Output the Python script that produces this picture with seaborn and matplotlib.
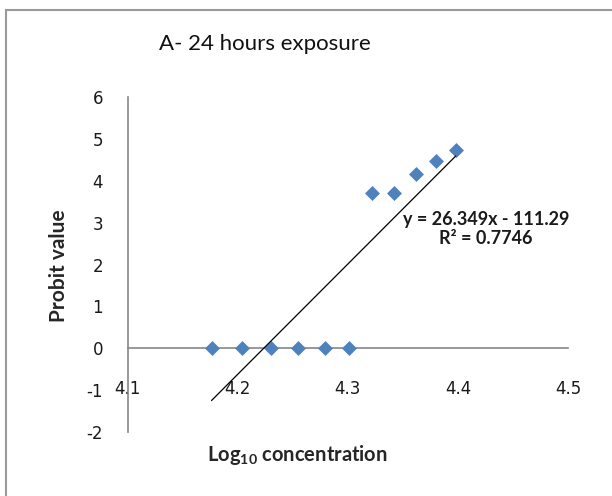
import numpy as np
import pandas as pd
import seaborn as sns
import matplotlib.pyplot as plt
from matplotlib.patches import Rectangle

# values
log_conc = [4.176, 4.204, 4.230, 4.255, 4.279, 4.301, 4.322, 4.342, 4.362, 4.380, 4.398]
probit = [0, 0, 0, 0, 0, 0, 3.72, 3.72, 4.16, 4.48, 4.75]
x_ticks = [4.1, 4.2, 4.3, 4.4, 4.5]
y_ticks = [-2, -1, 0, 1, 2, 3, 4, 5, 6]
equation = "y = 26.349x - 111.29"
r_squared = "R\u00b2 = 0.7746"

df = pd.DataFrame({"log_conc": log_conc, "probit": probit})

sns.set_style("white")
plt.rcParams['font.family'] = ['Lato', 'DejaVu Sans']
plt.rcParams['mathtext.fontset'] = 'custom'
plt.rcParams['mathtext.rm'] = 'Lato:bold'
plt.rcParams['axes.unicode_minus'] = False

axis_grey = '#868686'

fig = plt.figure(figsize=(6.12, 4.96), dpi=100)
ax = fig.add_axes([0.209, 0.129, 0.719, 0.675])

sns.scatterplot(data=df, x="log_conc", y="probit", marker="D", s=58,
                color="#4F81BD", linewidth=0, ax=ax, zorder=3)
sns.regplot(data=df, x="log_conc", y="probit", scatter=False, ci=None,
            truncate=True, line_kws=dict(color="black", lw=0.9, zorder=4), ax=ax)

ax.set_xlim(4.1, 4.5)
ax.set_ylim(-2, 6)
ax.set_xticks(x_ticks)
ax.set_xticklabels([f"{t:.1f}" for t in x_ticks])
ax.set_yticks(y_ticks)
ax.set_xlabel("")
ax.set_ylabel("")

for side in ["top", "right"]:
    ax.spines[side].set_visible(False)
ax.spines["bottom"].set_position(("data", 0))
for side in ["left", "bottom"]:
    ax.spines[side].set_color(axis_grey)
    ax.spines[side].set_linewidth(1.2)

ax.tick_params(axis="x", direction="out", length=6, width=1, color=axis_grey,
               pad=17, labelsize=12, labelcolor="#1a1a1a",
               labelfontfamily="DejaVu Sans")
ax.tick_params(axis="y", direction="out", length=7, width=1, color=axis_grey,
               pad=11, labelsize=12, labelcolor="#1a1a1a",
               labelfontfamily="DejaVu Sans")

ax.text(4.4255, 2.85, equation + "\n" + r_squared, ha="center", va="center",
        fontsize=13, fontweight="bold", linespacing=1.1, color="#1a1a1a")

fig.text(265 / 612, 1 - 44 / 496, "A- 24 hours exposure", ha="center",
         va="center", fontsize=16, color="#111111")
fig.text(297 / 612, 1 - 455 / 496, r"Log$_{\mathrm{10}}$ concentration",
         ha="center", va="center", fontsize=14.5, fontweight="bold")
fig.text(59 / 612, 1 - 266 / 496, "Probit value", ha="center", va="center",
         rotation=90, fontsize=15, fontweight="bold")

fig.patches.append(Rectangle((6 / 612, -0.2), 1.5, 1 - 10 / 496 + 0.2,
                             transform=fig.transFigure, fill=False,
                             edgecolor="#9a9a9a", linewidth=1.5))

fig.savefig("out.png", dpi=100)
